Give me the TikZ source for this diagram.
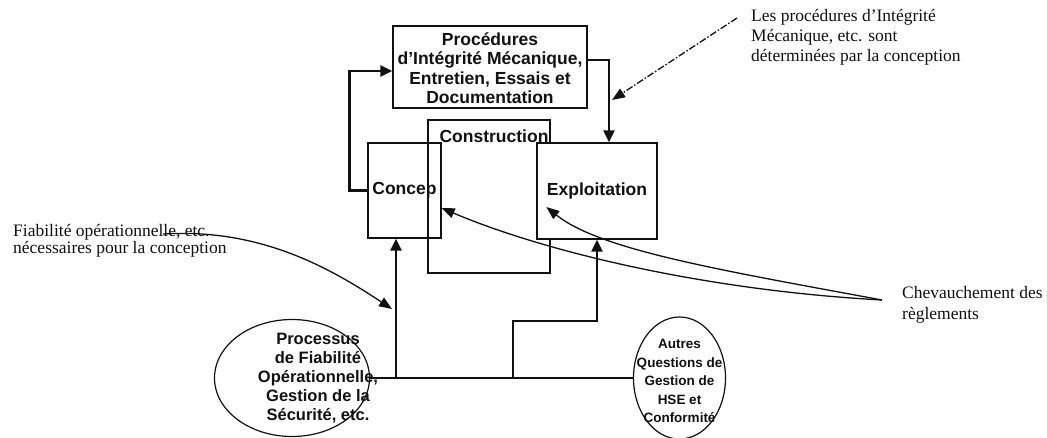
\documentclass[tikz,border=0pt]{standalone}
\usepackage{fontspec}
\setmainfont{Liberation Serif}
\setsansfont{Liberation Sans}
\usetikzlibrary{arrows.meta,shapes.geometric,positioning}
\definecolor{ink}{HTML}{111111}
\tikzset{
  stage/.style={
    draw=ink,
    line width=1.3pt,
    inner sep=0pt,
    align=center,
    font=\sffamily\bfseries\fontsize{17.5}{19.5}\selectfont,
    text=ink
  },
  stage title/.style={font=\sffamily\bfseries\fontsize{17.5}{19.5}\selectfont,text=ink,inner sep=0pt},
  process/.style={draw=ink,ellipse,line width=1.2pt,inner sep=0pt},
  process text/.style={
    align=center,
    inner sep=0pt,
    text=ink,
    font=\sffamily\bfseries\fontsize{16.5}{19}\selectfont
  },
  note/.style={
    align=left,
    anchor=north west,
    inner sep=0pt,
    text=ink,
    font=\fontsize{17.5}{20}\selectfont
  },
  flow/.style={-{Triangle[length=12pt,width=11pt]},line width=2.6pt,draw=ink},
  bus/.style={line width=2.6pt,draw=ink},
  pointer/.style={-{Triangle[length=13pt,width=10pt]},line width=1.3pt,draw=ink},
  dotted pointer/.style={pointer,dash pattern=on 7pt off 2pt on 1.5pt off 2pt}
}

\begin{document}
\begin{tikzpicture}[x=1pt,y=-1pt]
  \useasboundingbox (0,0) rectangle (1047,437);

  % life cycle phases
  \node[stage,minimum width=73pt,minimum height=95pt] (concep) at (404.5,190.5) {Concep};
  \node[stage,minimum width=122pt,minimum height=153pt] (constr) at (489,196.5) {};
  \node[stage,fill=white,minimum width=120pt,minimum height=96pt] (exploit) at (597,191) {Exploitation};
  \node[stage title,anchor=base] (constrtitle) at (494,142) {Construction};
  \node[stage,minimum width=194pt,minimum height=82pt] (proc) at (490,67) {};
  \node[stage,draw=none,anchor=north] (proctext) at (490,32)
    {Procédures\\d'Intégrité Mécanique,\\Entretien, Essais et\\Documentation};

  % management processes
  \node[process,minimum width=155pt,minimum height=117pt] (relproc) at (292,378) {};
  \node[process text] (relproctext) at (318,378)
    {Processus\\de Fiabilité\\Opérationnelle,\\Gestion de la\\Sécurité, etc.};
  \node[process,minimum width=92pt,minimum height=122pt] (hse) at (679.5,378) {};
  \node[process text,font=\sffamily\bfseries\fontsize{13.5}{18.5}\selectfont] (hsetext) at (679.5,381)
    {Autres\\Questions de\\Gestion de\\HSE et\\Conformité};

  % notes
  \node[note] (noteMI) at (751,9)
    {Les procédures d'Intégrité\\Mécanique, etc. sont\\déterminées par la conception};
  \node[note,font=\fontsize{17.5}{17.5}\selectfont] (noteFO) at (13,224)
    {Fiabilité opérationnelle, etc.\\nécessaires pour la conception};
  \node[note,font=\fontsize{17.5}{21}\selectfont] (noteCH) at (902,286)
    {Chevauchement des\\règlements};

  % flows
  \coordinate (tapA) at (396,378);
  \coordinate (tapB) at (513,378);
  \draw[bus] (relproc.east) -- (hse.west);
  \draw[flow] (tapA) -- (tapA |- concep.south);
  \draw[flow] (tapB) -- ++(0,-57) -| (exploit.south);
  \draw[flow] (concep.west) -- ++(-18,0) |- ([yshift=-4pt]proc.west);
  \draw[flow] ([yshift=7pt]proc.east) -| ([xshift=12pt]exploit.north);

  % pointers from the notes
  \coordinate (miTip) at (612,100);
  \draw[dotted pointer] ([shift={(-14pt,-9pt)}]noteMI.north west) -- (miTip);
  \coordinate (foStart) at (163,234);
  \coordinate (foTip) at (392,309);
  \draw[pointer] (foStart) .. controls (260,228) and (330,268) .. (foTip);
  \coordinate (chStart) at (882,300);
  \draw[pointer] (chStart) .. controls (720,270) and (600,250) .. ([shift={(10pt,-16pt)}]exploit.west);
  \draw[pointer] (chStart) .. controls (700,290) and (540,250) .. ([yshift=-17.5pt]concep.east);
\end{tikzpicture}
\end{document}
